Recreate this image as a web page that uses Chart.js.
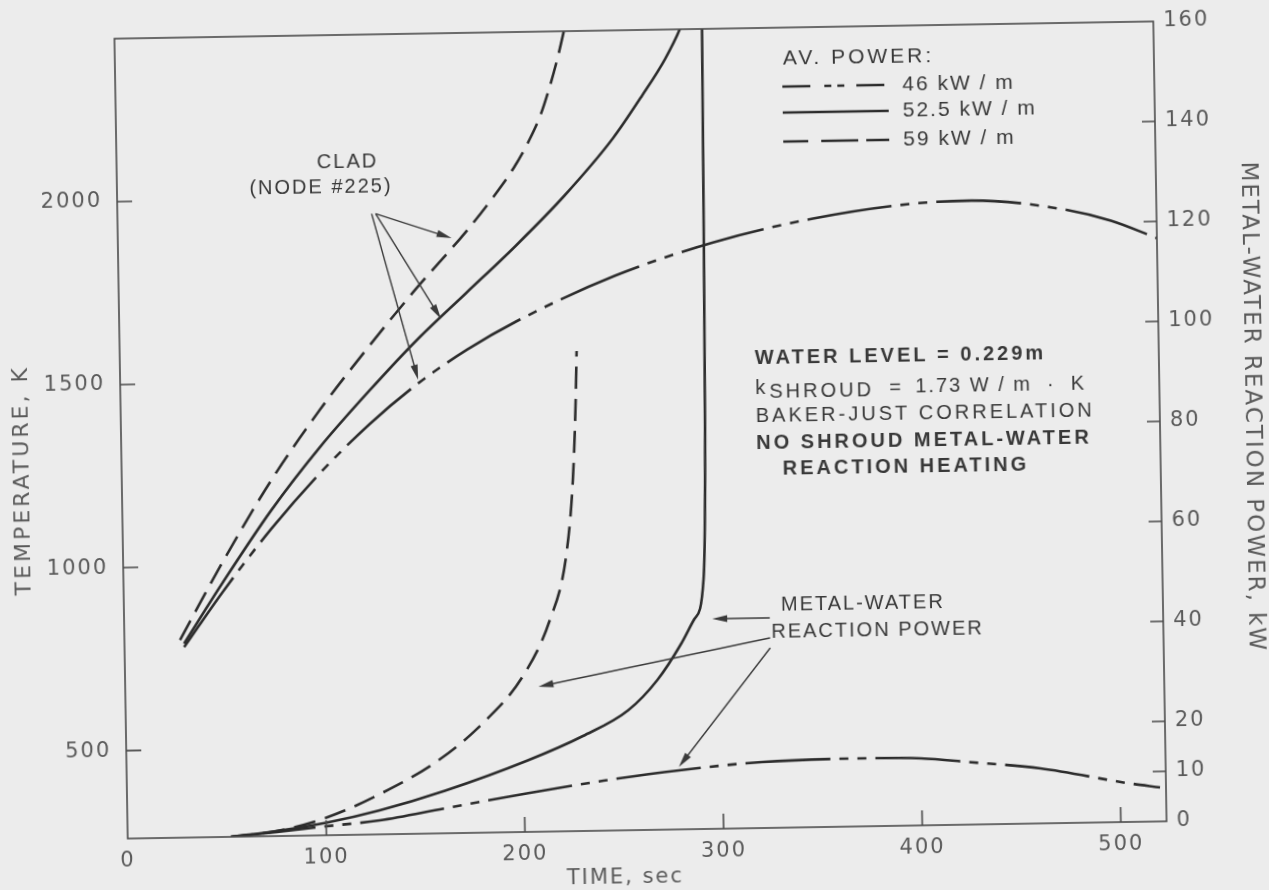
<!DOCTYPE html>
<html>
<head>
<meta charset="utf-8">
<script src="https://cdn.jsdelivr.net/npm/chart.js@4.4.1/dist/chart.umd.min.js"></script>
<style>
  html, body { margin: 0; padding: 0; background: #ececec; overflow: hidden; }
  #wrap {
    position: absolute; left: 0; top: 0; width: 1269px; height: 890px;
    transform: rotate(-0.95deg); transform-origin: 640.5px 429.75px;
  }
  canvas { display: block; }
</style>
</head>
<body>
<div id="wrap"><canvas id="chart" width="1269" height="890"></canvas></div>
<script>
// ---- axis ticks ----
const timeTicks  = [0, 100, 200, 300, 400, 500];
const tempTicks  = [500, 1000, 1500, 2000];
const powerTicks = [0, 10, 20, 40, 60, 80, 100, 120, 140, 160];

// ---- series names (average linear power) ----
const seriesNames = ['46 kW/m', '52.5 kW/m', '59 kW/m'];

// ---- clad temperature, node #225 (K) ----
const clad46Time  = [30, 50, 75, 100, 125, 150, 175, 200, 250, 300, 350, 400, 430, 470, 500, 523];
const clad46Temp  = [780, 930, 1100, 1250, 1380, 1490, 1580, 1655, 1775, 1862, 1922, 1958, 1964, 1942, 1903, 1853];
const clad525Time = [30, 50, 75, 100, 125, 150, 175, 200, 225, 250, 265, 277, 285, 291];
const clad525Temp = [790, 955, 1150, 1320, 1470, 1610, 1735, 1860, 1995, 2150, 2265, 2365, 2450, 2540];
const clad59Time  = [28, 50, 75, 100, 125, 150, 175, 190, 200, 208, 214, 219, 223, 226, 229];
const clad59Temp  = [800, 1010, 1230, 1420, 1590, 1750, 1900, 2000, 2075, 2150, 2220, 2300, 2375, 2440, 2510];

// ---- metal-water reaction power (kW) ----
const mw46Time  = [52, 75, 100, 127, 160, 202, 240, 278, 320, 370, 400, 424, 460, 504, 520];
const mw46Power = [0, 0.8, 1.8, 2.8, 5, 7.75, 10, 11.8, 13.2, 13.6, 13.4, 12.5, 11, 7.75, 6.8];
const mw525Time  = [52, 75, 100, 127, 160, 202, 230, 253, 268, 280, 287, 292, 294, 295, 296];
const mw525Power = [0, 1, 2.5, 4.8, 8.5, 14.3, 19, 24, 30, 37, 42, 50, 80, 120, 170];
const mw59Time  = [52, 75, 100, 127, 157, 180, 200, 214, 223, 227, 229, 230];
const mw59Power = [0, 1, 3.5, 8, 14.6, 22, 31, 42, 55, 70, 85, 96];

const pts = (xs, ys) => xs.map((x, i) => ({ x: x, y: ys[i] }));

const INK = '#2c2c2c';
const TEXT = '#383838';
const TICKTEXT = '#5a5a5a';
const dash46 = [85, 9, 9, 9, 9, 9];
const dash59 = [22, 10];

function lineSet(label, data, axis, dash) {
  return {
    label: label, data: data, yAxisID: axis,
    borderColor: INK, borderWidth: 2.6, borderDash: dash,
    pointRadius: 0, fill: false, cubicInterpolationMode: 'monotone'
  };
}

const datasets = [
  lineSet(seriesNames[0], pts(clad46Time, clad46Temp), 'yT', dash46),
  lineSet(seriesNames[1], pts(clad525Time, clad525Temp), 'yT', []),
  lineSet(seriesNames[2], pts(clad59Time, clad59Temp), 'yT', dash59),
  lineSet(seriesNames[0], pts(mw46Time, mw46Power), 'yP', dash46),
  lineSet(seriesNames[1], pts(mw525Time, mw525Power), 'yP', []),
  lineSet(seriesNames[2], pts(mw59Time, mw59Power), 'yP', dash59)
];

const tickFont = { family: 'DejaVu Sans', size: 21 };
const plainLabel = v => String(v);

function setTicks(list) {
  return function (scale) { scale.ticks = list.map(v => ({ value: v })); };
}

function arrow(ctx, x1, y1, x2, y2) {
  const a = Math.atan2(y2 - y1, x2 - x1);
  const L = 15, W = 3.6;
  ctx.beginPath();
  ctx.moveTo(x1, y1);
  ctx.lineTo(x2 - L * 0.6 * Math.cos(a), y2 - L * 0.6 * Math.sin(a));
  ctx.stroke();
  ctx.beginPath();
  ctx.moveTo(x2, y2);
  ctx.lineTo(x2 - L * Math.cos(a) - W * Math.sin(a), y2 - L * Math.sin(a) + W * Math.cos(a));
  ctx.lineTo(x2 - L * Math.cos(a) + W * Math.sin(a), y2 - L * Math.sin(a) - W * Math.cos(a));
  ctx.closePath();
  ctx.fill();
}

const figureInk = {
  id: 'figureInk',
  beforeDraw(chart) {
    chart.ctx.letterSpacing = '2px';
  },
  afterDatasetsDraw(chart) {
    const { ctx, chartArea: a, scales } = chart;
    const sx = scales.x, sT = scales.yT, sP = scales.yP;
    ctx.save();
    // frame
    ctx.strokeStyle = '#4a4a4a';
    ctx.lineWidth = 1.6;
    ctx.strokeRect(a.left, a.top, a.right - a.left, a.bottom - a.top);
    // inward tick marks
    ctx.beginPath();
    timeTicks.forEach(v => { const x = sx.getPixelForValue(v); if (v > 0) { ctx.moveTo(x, a.bottom); ctx.lineTo(x, a.bottom - 15); } });
    tempTicks.forEach(v => { const y = sT.getPixelForValue(v); ctx.moveTo(a.left, y); ctx.lineTo(a.left + 15, y); });
    powerTicks.forEach(v => { const y = sP.getPixelForValue(v); if (v > 0 && v < 160) { ctx.moveTo(a.right, y); ctx.lineTo(a.right - 13, y); } });
    ctx.stroke();

    // legend
    ctx.fillStyle = TEXT;
    ctx.letterSpacing = '3px';
    ctx.font = '21px "Liberation Sans"';
    ctx.textBaseline = 'middle';
    ctx.textAlign = 'left';
    ctx.fillText('AV. POWER:', 789, 61);
    const legendDash = [[28, 14, 7, 6, 7, 12], [], [25, 13, 37, 8]];
    const ly = [89, 115, 144];
    ctx.strokeStyle = INK;
    ctx.lineWidth = 2.4;
    ctx.letterSpacing = '2px';
    for (let i = 0; i < 3; i++) {
      ctx.setLineDash(legendDash[i]);
      ctx.beginPath();
      ctx.moveTo(788, ly[i]);
      ctx.lineTo(894, ly[i]);
      ctx.stroke();
      ctx.fillText(seriesNames[i].replace('/', ' / '), 908, ly[i]);
    }
    ctx.setLineDash([]);

    // notes
    ctx.letterSpacing = '3px';
    ctx.font = 'bold 20px "Liberation Sans"';
    ctx.fillText('WATER LEVEL = 0.229m', 756, 360);
    ctx.font = '20px "Liberation Sans"';
    ctx.fillText('k', 756, 390);
    ctx.fillText('SHROUD', 770, 394);
    ctx.fillText('=', 890, 392);
    ctx.letterSpacing = '2px';
    ctx.fillText('1.73 W / m  ·  K', 916, 391);
    ctx.letterSpacing = '3px';
    ctx.fillText('BAKER-JUST CORRELATION', 756, 418);
    ctx.font = 'bold 20px "Liberation Sans"';
    ctx.fillText('NO SHROUD METAL-WATER', 756, 445);
    ctx.fillText('REACTION HEATING', 782, 471);

    // clad label
    ctx.letterSpacing = '2px';
    ctx.font = '20px "Liberation Sans"';
    ctx.textAlign = 'center';
    ctx.fillText('CLAD', 352, 157);
    ctx.fillText('(NODE #225)', 325, 182);

    // metal-water label
    ctx.textAlign = 'left';
    ctx.fillText('METAL-WATER', 778, 607);
    ctx.fillText('REACTION POWER', 768, 634);

    // arrows
    ctx.strokeStyle = '#3a3a3a';
    ctx.fillStyle = '#3a3a3a';
    ctx.lineWidth = 1.4;
    const cx = sx.getPixelForValue(130), cy = sT.getPixelForValue(1955);
    arrow(ctx, cx, cy, sx.getPixelForValue(168), sT.getPixelForValue(1885));
    arrow(ctx, cx, cy, sx.getPixelForValue(162), sT.getPixelForValue(1665));
    arrow(ctx, cx - 4, cy, sx.getPixelForValue(150), sT.getPixelForValue(1500));
    const mx = sx.getPixelForValue(325);
    arrow(ctx, mx, sP.getPixelForValue(42), sx.getPixelForValue(296), sP.getPixelForValue(42));
    arrow(ctx, mx, sP.getPixelForValue(38), sx.getPixelForValue(208), sP.getPixelForValue(29));
    arrow(ctx, mx, sP.getPixelForValue(36), sx.getPixelForValue(278), sP.getPixelForValue(12.5));
    ctx.restore();
  },
  afterDraw(chart) {
    const { ctx } = chart;
    ctx.save();
    ctx.fillStyle = TICKTEXT;
    ctx.letterSpacing = '2px';
    ctx.font = '21px "DejaVu Sans"';
    ctx.textAlign = 'center';
    ctx.textBaseline = 'middle';
    ctx.fillText('TIME, sec', 618, 878);
    ctx.letterSpacing = '3px';
    ctx.font = '22px "DejaVu Sans"';
    ctx.translate(22, 470);
    ctx.rotate(-Math.PI / 2);
    ctx.fillText('TEMPERATURE, K', 0, 0);
    ctx.restore();
    ctx.save();
    ctx.fillStyle = TICKTEXT;
    ctx.letterSpacing = '2px';
    ctx.font = '23px "DejaVu Sans"';
    ctx.textAlign = 'center';
    ctx.textBaseline = 'middle';
    ctx.translate(1252, 417);
    ctx.rotate(Math.PI / 2);
    ctx.fillText('METAL-WATER REACTION POWER, kW', 0, 0);
    ctx.restore();
  }
};

new Chart(document.getElementById('chart'), {
  type: 'line',
  data: { datasets: datasets },
  plugins: [figureInk],
  options: {
    responsive: false,
    animation: false,
    devicePixelRatio: 1,
    layout: { padding: { top: 30, left: 0, right: 0, bottom: 0 } },
    plugins: { legend: { display: false }, tooltip: { enabled: false } },
    scales: {
      x: {
        type: 'linear', min: 0, max: 523,
        afterBuildTicks: setTicks(timeTicks),
        afterFit: s => { s.height = 60; },
        grid: { display: false, drawTicks: false },
        border: { display: false },
        ticks: { font: tickFont, color: TICKTEXT, padding: 10, maxRotation: 0, callback: plainLabel }
      },
      yT: {
        type: 'linear', position: 'left', min: 260, max: 2445,
        afterBuildTicks: setTicks(tempTicks),
        afterFit: s => { s.width = 121; },
        grid: { display: false, drawTicks: false },
        border: { display: false },
        ticks: { font: tickFont, color: TICKTEXT, padding: 15, callback: plainLabel }
      },
      yP: {
        type: 'linear', position: 'right', min: 0, max: 160,
        afterBuildTicks: setTicks(powerTicks),
        afterFit: s => { s.width = 109; },
        grid: { display: false, drawTicks: false },
        border: { display: false },
        ticks: { font: tickFont, color: TICKTEXT, padding: 10, callback: plainLabel }
      }
    }
  }
});
</script>
</body>
</html>
